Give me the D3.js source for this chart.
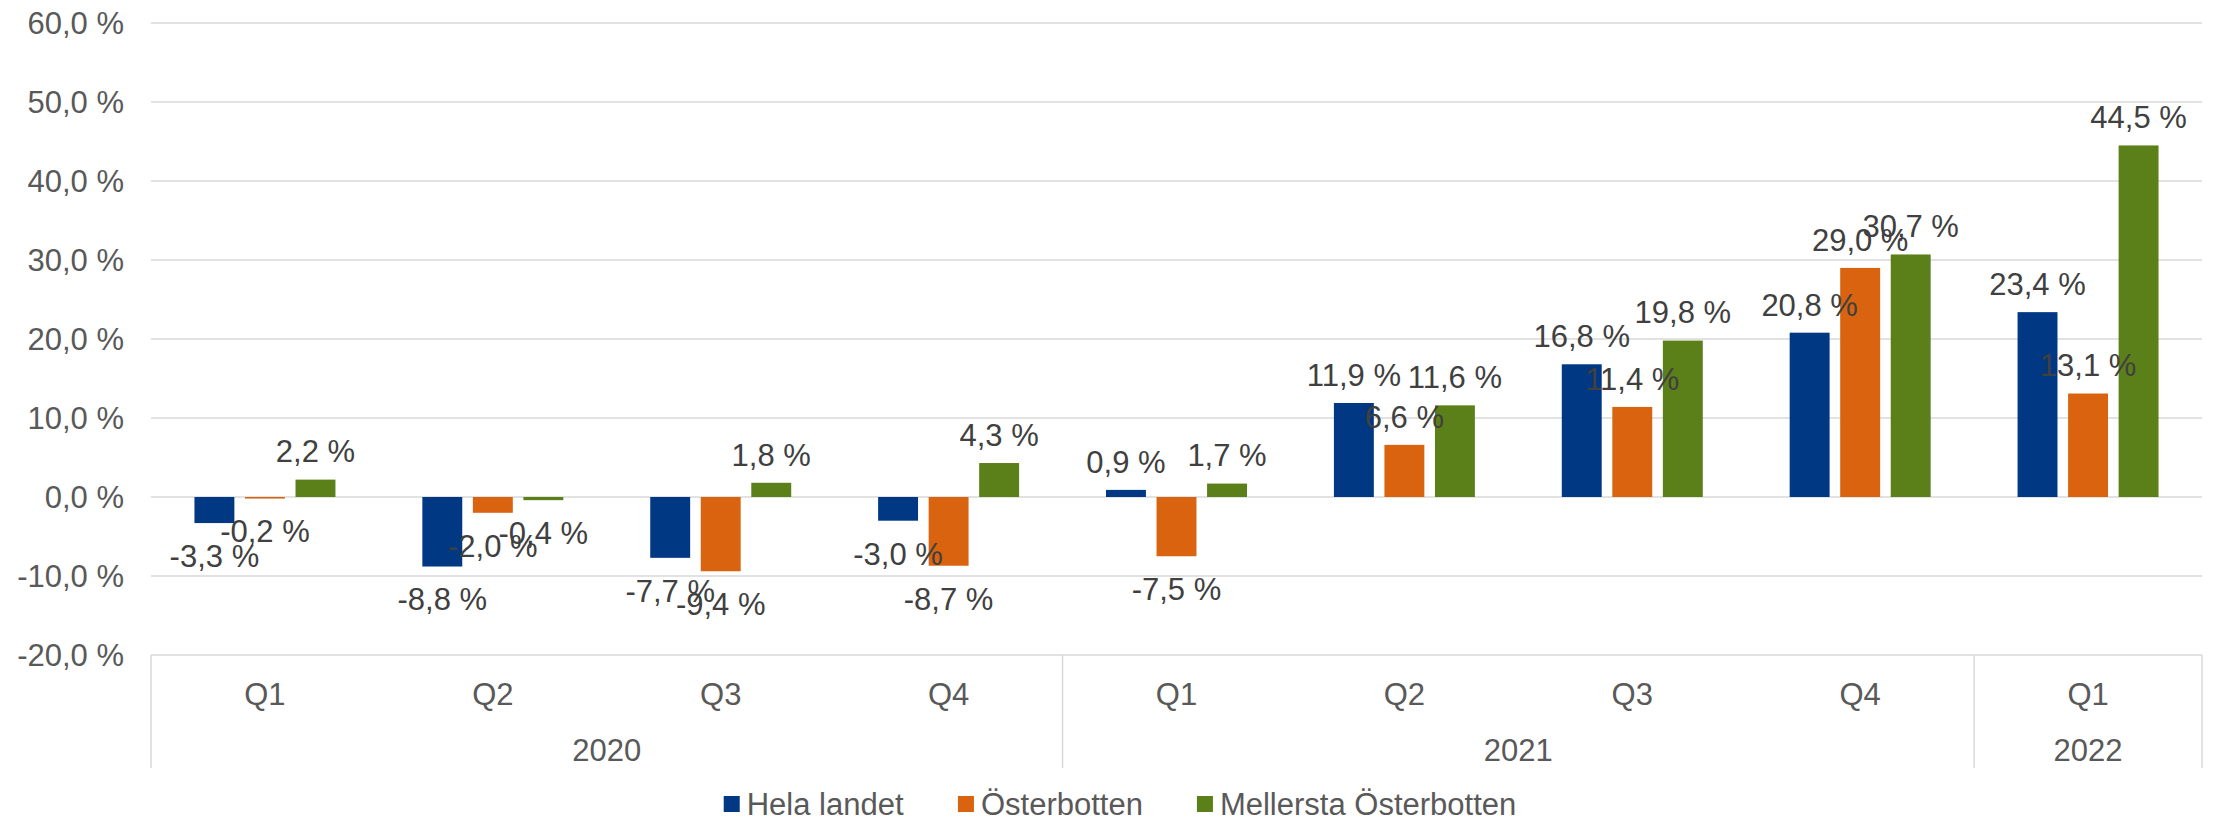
<!DOCTYPE html>
<html lang="sv">
<head>
  <meta charset="UTF-8" />
  <title>Förändring per kvartal</title>
  <script src="https://d3js.org/d3.v7.min.js"></script>
  <style>
    html, body { margin: 0; padding: 0; background: #FFFFFF; overflow: hidden; }
    svg { display: block; font-family: 'Liberation Sans', Arial, sans-serif; }
    .grid line { stroke: #D9D9D9; stroke-width: 1.5px; }
    .tick-label { fill: #595959; font-size: 31px; }
    .data-label { fill: #404040; font-size: 31px; }
    .legend-label { fill: #595959; font-size: 31px; }
  </style>
</head>
<body>
  <svg id="chart" width="2216" height="823"></svg>
  <script>
    // data
    const quarters = ["Q1", "Q2", "Q3", "Q4", "Q1", "Q2", "Q3", "Q4", "Q1"];
    const years = [
      { label: "2020", from: 0, to: 4 },
      { label: "2021", from: 4, to: 8 },
      { label: "2022", from: 8, to: 9 }
    ];
    const seriesNames = ["Hela landet", "Österbotten", "Mellersta Österbotten"];
    const helaLandet = [-3.3, -8.8, -7.7, -3.0, 0.9, 11.9, 16.8, 20.8, 23.4];
    const osterbotten = [-0.2, -2.0, -9.4, -8.7, -7.5, 6.6, 11.4, 29.0, 13.1];
    const mellersta = [2.2, -0.4, 1.8, 4.3, 1.7, 11.6, 19.8, 30.7, 44.5];
    const yTicks = [-20, -10, 0, 10, 20, 30, 40, 50, 60];
    const colors = ["#003883", "#D9630E", "#5B7F19"];

    const values = [helaLandet, osterbotten, mellersta];

    const locale = d3.formatLocale({ decimal: ",", thousands: " ", grouping: [3], currency: ["", " €"], minus: "-" });
    const fmt = d => locale.format(".1f")(d) + " %";

    const svg = d3.select("#chart");
    const plot = { left: 151, right: 2202, top: 23, bottom: 655 };

    const y = d3.scaleLinear().domain([-20, 60]).range([plot.bottom, plot.top]);
    const idx = d3.range(quarters.length);
    const x0 = d3.scaleBand().domain(idx).range([plot.left, plot.right]).padding(0);
    const x1 = d3.scaleBand().domain(d3.range(seriesNames.length))
      .range([0, x0.bandwidth()]).paddingInner(0.21).paddingOuter(0.86);

    // gridlines
    svg.append("g").attr("class", "grid")
      .selectAll("line").data(yTicks).join("line")
      .attr("x1", plot.left).attr("x2", plot.right)
      .attr("y1", d => y(d)).attr("y2", d => y(d));

    // y tick labels
    svg.append("g").selectAll("text").data(yTicks).join("text")
      .attr("class", "tick-label")
      .attr("x", 124).attr("y", d => y(d)).attr("dy", "0.35em")
      .attr("text-anchor", "end")
      .text(d => fmt(d));

    // bars
    const groups = svg.append("g").selectAll("g").data(idx).join("g")
      .attr("transform", i => `translate(${x0(i)},0)`);

    groups.selectAll("rect")
      .data(i => values.map((s, k) => ({ k, v: s[i] })))
      .join("rect")
      .attr("x", d => x1(d.k))
      .attr("width", x1.bandwidth())
      .attr("y", d => y(Math.max(0, d.v)))
      .attr("height", d => Math.abs(y(d.v) - y(0)))
      .attr("fill", d => colors[d.k]);

    groups.selectAll("text")
      .data(i => values.map((s, k) => ({ k, v: s[i] })))
      .join("text")
      .attr("class", "data-label")
      .attr("x", d => x1(d.k) + x1.bandwidth() / 2)
      .attr("y", d => d.v >= 0 ? y(d.v) - 28 : y(d.v) + 33)
      .attr("dy", "0.35em")
      .attr("text-anchor", "middle")
      .text(d => fmt(d.v));

    // category axis (two levels)
    const axisBottom = 768;
    const seps = [0, 4, 8, 9].map(i => i < quarters.length ? x0(i) : plot.right);
    svg.append("g").attr("class", "grid")
      .selectAll("line").data(seps).join("line")
      .attr("x1", d => d).attr("x2", d => d)
      .attr("y1", plot.bottom).attr("y2", axisBottom);

    svg.append("g").selectAll("text").data(idx).join("text")
      .attr("class", "tick-label")
      .attr("x", i => x0(i) + x0.bandwidth() / 2)
      .attr("y", 694).attr("dy", "0.35em")
      .attr("text-anchor", "middle")
      .text(i => quarters[i]);

    svg.append("g").selectAll("text").data(years).join("text")
      .attr("class", "tick-label")
      .attr("x", d => (x0(d.from) + (d.to < quarters.length ? x0(d.to) : plot.right)) / 2)
      .attr("y", 750).attr("dy", "0.35em")
      .attr("text-anchor", "middle")
      .text(d => d.label);

    // legend
    const legend = svg.append("g");
    const items = legend.selectAll("g").data(seriesNames).join("g");
    items.append("rect").attr("width", 16).attr("height", 16).attr("y", -8)
      .attr("fill", (d, i) => colors[i]);
    items.append("text").attr("class", "legend-label")
      .attr("x", 23).attr("dy", "0.35em").text(d => d);
    let cx = 0;
    items.each(function () {
      d3.select(this).attr("transform", `translate(${cx},0)`);
      cx += this.getBBox().width + 54;
    });
    const legendW = cx - 54;
    legend.attr("transform", `translate(${1120 - legendW / 2},804)`);
  </script>
</body>
</html>
